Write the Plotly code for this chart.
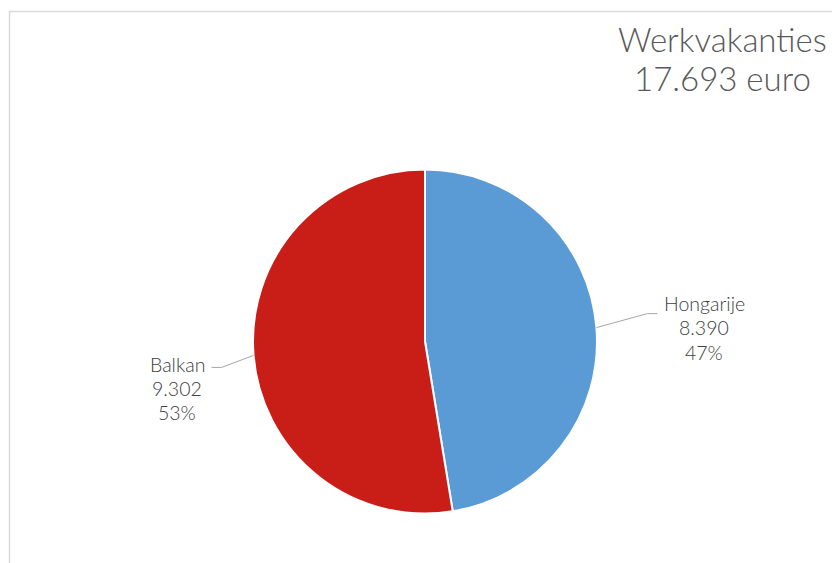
import math
import plotly.graph_objects as go

categories = ["Hongarije", "Balkan"]
values = [8390, 9302]
value_labels = ["8.390", "9.302"]
title_lines = ["Werkvakanties", "17.693 euro"]
colors = ["#5B9BD5", "#C91E18"]

W, H = 840, 563
OFF = 8  # page body margin offset
cx, cy, r = 425 - OFF, 341.5 - OFF, 172

def px(x):
    return x / W

def py(y):
    return 1 - y / H

fig = go.Figure(go.Pie(
    labels=categories,
    values=values,
    sort=False,
    direction="clockwise",
    rotation=0,
    textinfo="none",
    hoverinfo="label+value+percent",
    marker=dict(colors=colors, line=dict(color="white", width=2)),
    domain=dict(x=[px(cx - r), px(cx + r)], y=[py(cy + r), py(cy - r)]),
    showlegend=False,
))

total = sum(values)
label_layout = [
    dict(elbow=(51, -14), end=10, tx=704 - OFF, ty=303 - OFF),
    dict(elbow=(-32, 12), end=-10, tx=177 - OFF, ty=364 - OFF),
]

shapes = []
annotations = []
cum = 0
for i, (cat, v) in enumerate(zip(categories, values)):
    frac = v / total
    mid = (cum + frac / 2) * 2 * math.pi
    cum += frac
    ex = cx + r * math.sin(mid)
    ey = cy - r * math.cos(mid)
    lay = label_layout[i]
    bx, by = ex + lay["elbow"][0], ey + lay["elbow"][1]
    hx = bx + lay["end"]
    path = f"M {px(ex)} {py(ey)} L {px(bx)} {py(by)} L {px(hx)} {py(by)}"
    shapes.append(dict(type="path", xref="paper", yref="paper", path=path,
                       line=dict(color="#A6A6A6", width=1)))
    pct = f"{round(frac * 100)}%"
    for j, t in enumerate([cat, value_labels[i], pct]):
        annotations.append(dict(
            x=px(lay["tx"]), y=py(lay["ty"] + j * 24.5), xref="paper", yref="paper",
            text=t, showarrow=False, xanchor="center", yanchor="middle",
            font=dict(family="Lato", size=19.5, color="#404040", weight=300),
        ))

for j, t in enumerate(title_lines):
    annotations.append(dict(
        x=px(722.5 - OFF), y=py(38.5 - OFF + j * 40), xref="paper", yref="paper",
        text=t, showarrow=False, xanchor="center", yanchor="middle",
        font=dict(family="Lato", size=33, color="#595959", weight=300),
    ))

shapes.append(dict(type="rect", xref="paper", yref="paper",
                   x0=px(9.5 - OFF), y0=py(580), x1=px(860), y1=py(11.5 - OFF),
                   line=dict(color="#D9D9D9", width=1.5), fillcolor="rgba(0,0,0,0)"))

fig.update_layout(
    width=W, height=H,
    margin=dict(l=0, r=0, t=0, b=0),
    paper_bgcolor="white", plot_bgcolor="white",
    shapes=shapes, annotations=annotations,
)

fig.write_html("out.html")
